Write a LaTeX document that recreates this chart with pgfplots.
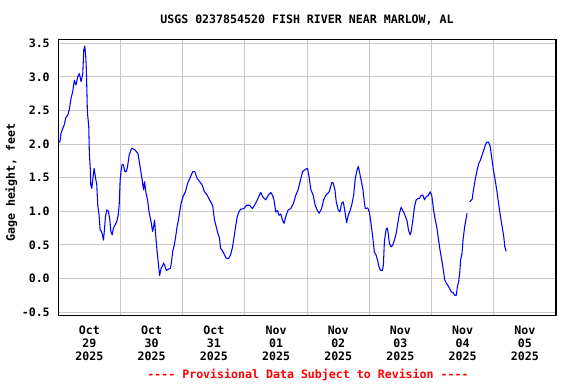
\documentclass[border=0pt]{standalone}
\usepackage{pgfplots}
\usepackage{pgfplotstable}
\pgfplotsset{compat=1.18}
\usepackage{fontspec}
\setmainfont{DejaVu Sans Mono}[Ligatures=TeXOff]
\newcommand\chartfont{\fontsize{8.7}{9.6}\selectfont\bfseries}
\definecolor{gridgray}{RGB}{200,200,200}
\definecolor{usgsblue}{RGB}{0,0,255}

\pgfplotstableread{
d v
0.000 2.02
0.027 2.04
0.044 2.16
0.071 2.23
0.097 2.29
0.124 2.40
0.152 2.43
0.177 2.51
0.205 2.68
0.232 2.78
0.258 2.95
0.285 2.88
0.313 3.00
0.339 3.05
0.366 2.93
0.394 3.05
0.410 3.40
0.426 3.46
0.442 3.30
0.452 3.10
0.468 2.48
0.490 2.26
0.500 1.86
0.516 1.61
0.523 1.39
0.539 1.34
0.555 1.47
0.576 1.64
0.597 1.51
0.619 1.39
0.635 1.09
0.656 0.94
0.673 0.72
0.694 0.70
0.710 0.65
0.726 0.57
0.742 0.72
0.758 0.92
0.781 1.02
0.806 1.00
0.829 0.87
0.845 0.70
0.866 0.65
0.887 0.75
0.915 0.80
0.942 0.85
0.963 0.94
0.979 1.09
0.995 1.47
1.011 1.61
1.027 1.70
1.048 1.69
1.071 1.59
1.092 1.59
1.113 1.66
1.140 1.84
1.168 1.91
1.184 1.94
1.237 1.91
1.281 1.86
1.318 1.65
1.345 1.49
1.371 1.32
1.387 1.44
1.410 1.27
1.435 1.17
1.463 0.97
1.490 0.85
1.516 0.70
1.532 0.77
1.548 0.87
1.565 0.65
1.587 0.42
1.608 0.23
1.629 0.04
1.652 0.15
1.673 0.18
1.694 0.23
1.716 0.18
1.737 0.12
1.774 0.14
1.802 0.15
1.818 0.23
1.839 0.40
1.866 0.50
1.887 0.62
1.910 0.77
1.931 0.87
1.952 0.99
1.974 1.12
2.006 1.22
2.044 1.29
2.081 1.42
2.124 1.51
2.161 1.59
2.194 1.59
2.232 1.49
2.274 1.44
2.313 1.39
2.350 1.29
2.394 1.24
2.431 1.17
2.463 1.12
2.484 1.07
2.511 0.87
2.539 0.77
2.565 0.67
2.592 0.60
2.608 0.45
2.635 0.42
2.661 0.37
2.700 0.30
2.742 0.30
2.769 0.35
2.797 0.45
2.823 0.60
2.850 0.77
2.877 0.92
2.903 0.99
2.931 1.03
2.984 1.04
3.027 1.09
3.076 1.09
3.119 1.04
3.156 1.09
3.200 1.17
3.253 1.28
3.290 1.21
3.334 1.17
3.377 1.24
3.415 1.28
3.442 1.24
3.468 1.17
3.495 0.99
3.523 1.01
3.548 0.94
3.576 0.96
3.603 0.87
3.629 0.82
3.656 0.92
3.694 1.02
3.737 1.04
3.781 1.12
3.818 1.24
3.855 1.32
3.887 1.44
3.926 1.59
3.968 1.62
4.006 1.64
4.032 1.51
4.060 1.32
4.097 1.24
4.129 1.09
4.161 1.02
4.194 0.97
4.232 1.04
4.265 1.17
4.302 1.24
4.355 1.29
4.398 1.43
4.419 1.42
4.447 1.32
4.468 1.14
4.500 1.02
4.527 0.99
4.555 1.12
4.581 1.14
4.608 0.99
4.635 0.83
4.661 0.94
4.694 1.02
4.716 1.09
4.748 1.24
4.774 1.49
4.802 1.61
4.823 1.67
4.845 1.57
4.871 1.45
4.898 1.32
4.919 1.14
4.935 1.04
4.974 1.05
5.000 0.99
5.027 0.82
5.055 0.61
5.081 0.39
5.108 0.35
5.135 0.26
5.156 0.17
5.177 0.12
5.210 0.12
5.226 0.20
5.242 0.55
5.269 0.73
5.290 0.75
5.306 0.65
5.323 0.52
5.350 0.47
5.377 0.50
5.403 0.57
5.431 0.67
5.458 0.82
5.484 0.97
5.511 1.06
5.532 1.02
5.555 0.98
5.581 0.92
5.608 0.85
5.629 0.72
5.656 0.65
5.673 0.70
5.700 0.87
5.726 1.07
5.753 1.17
5.781 1.19
5.806 1.19
5.834 1.24
5.861 1.24
5.887 1.17
5.915 1.22
5.942 1.23
5.979 1.29
6.006 1.22
6.032 1.02
6.060 0.87
6.087 0.75
6.113 0.57
6.140 0.40
6.168 0.25
6.194 0.10
6.210 -0.02
6.237 -0.07
6.265 -0.11
6.290 -0.15
6.318 -0.20
6.345 -0.21
6.371 -0.25
6.398 -0.25
6.415 -0.12
6.435 -0.05
6.452 0.08
6.468 0.28
6.490 0.38
6.506 0.57
6.532 0.77
6.548 0.85
6.571 0.97
6.590 nan
6.613 1.14
6.652 1.18
6.677 1.34
6.705 1.49
6.732 1.61
6.758 1.71
6.785 1.76
6.813 1.84
6.839 1.91
6.866 1.99
6.887 2.03
6.915 2.03
6.942 1.97
6.968 1.79
6.995 1.61
7.027 1.44
7.055 1.27
7.081 1.09
7.108 0.92
7.135 0.77
7.161 0.62
7.177 0.47
7.200 0.40
}\gage

\begin{document}
\begin{tikzpicture}
\path[use as bounding box] (0,0) rectangle (432pt,288pt);
\begin{axis}[
  at={(43.7pt,51.2pt)}, anchor=south west,
  scale only axis, width=373.3pt, height=207.3pt,
  xmin=0, xmax=8, ymin=-0.555, ymax=3.56,
  xtick={0.5,1.5,2.5,3.5,4.5,5.5,6.5,7.5},
  xticklabels={{Oct\\29\\2025},{Oct\\30\\2025},{Oct\\31\\2025},{Nov\\01\\2025},{Nov\\02\\2025},{Nov\\03\\2025},{Nov\\04\\2025},{Nov\\05\\2025}},
  minor xtick={1,2,3,4,5,6,7},
  xmajorgrids=false, xminorgrids=true, ymajorgrids=true,
  ytick={-0.5,0,0.5,1,1.5,2,2.5,3,3.5},
  yticklabels={-0.5,0.0,0.5,1.0,1.5,2.0,2.5,3.0,3.5},
  grid style={gridgray, line width=0.75pt},
  minor grid style={gridgray, line width=0.75pt},
  major tick length=0pt, minor tick length=0pt,
  axis line style={black, line width=1.1pt},
  tick label style={font=\chartfont},
  xticklabel style={align=center, anchor=north, inner sep=0pt, yshift=-7.5pt},
  yticklabel style={anchor=east, inner sep=0pt, xshift=-6.2pt},
  unbounded coords=jump,
]
\addplot[usgsblue, line width=0.8pt, line join=round] table[x=d,y=v]{\gage};
\end{axis}
\node[font=\chartfont] at (230.25pt,273pt) {USGS 0237854520 FISH RIVER NEAR MARLOW, AL};
\node[font=\chartfont, rotate=90] at (8.6pt,151.1pt) {Gage height, feet};
\node[font=\chartfont, text=red] at (231pt,6.75pt) {---- Provisional Data Subject to Revision ----};
\end{tikzpicture}
\end{document}
